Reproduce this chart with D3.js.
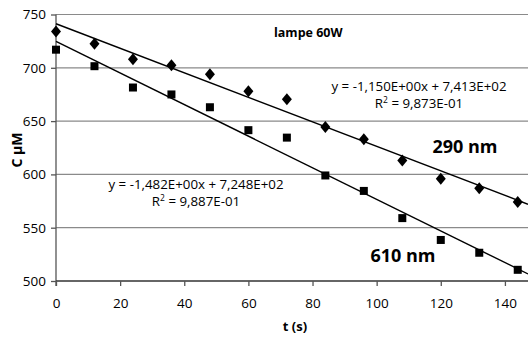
<!DOCTYPE html>
<html>
<head>
<meta charset="utf-8">
<script src="https://cdn.jsdelivr.net/npm/d3@7"></script>
<style>
  body { margin: 0; background: #fff; }
  text { font-family: "Open Sans", sans-serif; fill: #000; }
</style>
</head>
<body>
<svg width="528" height="338"></svg>
<script>
// time (s)
var times = [0, 12, 24, 36, 48, 60, 72, 84, 96, 108, 120, 132, 144];
// 290 nm (diamonds)
var c290 = [734, 722.5, 708, 702.5, 694, 678, 670.5, 644.5, 633, 613, 596, 587, 574];
// 610 nm (squares)
var c610 = [717, 701.5, 681.5, 675, 663, 641.5, 634.5, 599, 584.5, 559, 538.5, 526.5, 510.5];
// linear fits: [slope, intercept]
var fit290 = [-1.150, 741.3];
var fit610 = [-1.482, 724.8];
var xTicks = [0, 20, 40, 60, 80, 100, 120, 140];
var yTicks = [500, 550, 600, 650, 700, 750];

var svg = d3.select("svg");
var x = d3.scaleLinear().domain([0, 147.2]).range([56, 528]);
var y = d3.scaleLinear().domain([500, 750]).range([281, 14.5]);

// gridlines
svg.append("g")
  .selectAll("line")
  .data(yTicks.filter(function (d) { return d > 500; }))
  .join("line")
  .attr("x1", x(0)).attr("x2", 528)
  .attr("y1", function (d) { return y(d); })
  .attr("y2", function (d) { return y(d); })
  .attr("stroke", "#8a8a8a")
  .attr("stroke-width", 1.2);

// axes
var yAxis = svg.append("g")
  .attr("transform", "translate(" + x(0) + ",0)")
  .call(d3.axisLeft(y).tickValues(yTicks).tickSize(5).tickPadding(5));
yAxis.select(".domain").attr("d", "M0," + (y(750)) + "V" + (y(500) + 5)).attr("stroke", "#555").attr("stroke-width", 1.3);
yAxis.selectAll(".tick line").attr("stroke", "#555").attr("stroke-width", 1.3);
yAxis.selectAll("text").style("font-size", "13.5px").attr("fill", "#000");

var xAxis = svg.append("g")
  .attr("transform", "translate(0," + y(500) + ")")
  .call(d3.axisBottom(x).tickValues(xTicks).tickSize(5).tickPadding(12));
xAxis.select(".domain").attr("d", "M" + x(0) + ",0H528").attr("stroke", "#333").attr("stroke-width", 1.6);
xAxis.selectAll(".tick line").attr("stroke", "#555").attr("stroke-width", 1.3);
xAxis.selectAll("text").style("font-size", "13.5px").attr("fill", "#000");
yAxis.attr("font-family", null);
xAxis.attr("font-family", null);

// trend lines
[fit290, fit610].forEach(function (f) {
  svg.append("line")
    .attr("x1", x(0)).attr("y1", y(f[1]))
    .attr("x2", x(147.2)).attr("y2", y(f[0] * 147.2 + f[1]))
    .attr("stroke", "#000")
    .attr("stroke-width", 1.4);
});

// markers
var pts290 = times.map(function (t, i) { return {t: t, c: c290[i]}; });
var pts610 = times.map(function (t, i) { return {t: t, c: c610[i]}; });

svg.append("g").selectAll("path")
  .data(pts290)
  .join("path")
  .attr("transform", function (d) { return "translate(" + x(d.t) + "," + y(d.c) + ")"; })
  .attr("d", "M0,-6L5,0L0,6L-5,0Z")
  .attr("fill", "#000");

svg.append("g").selectAll("rect")
  .data(pts610)
  .join("rect")
  .attr("x", function (d) { return x(d.t) - 4; })
  .attr("y", function (d) { return y(d.c) - 4; })
  .attr("width", 8).attr("height", 8)
  .attr("fill", "#000");

// annotations
function label(tx, ty, str, size, weight, anchor) {
  return svg.append("text")
    .attr("x", tx).attr("y", ty)
    .attr("text-anchor", anchor || "start")
    .style("font-size", size + "px")
    .style("font-weight", weight || "normal")
    .text(str);
}
label(274, 37, "lampe 60W", 12.5, "bold");
label(419, 91, "y = -1,150E+00x + 7,413E+02", 13.3, "normal", "middle");
var r1 = label(419, 108, "R", 13.3, "normal", "middle");
r1.append("tspan").attr("dy", -5).style("font-size", "8.5px").text("2");
r1.append("tspan").attr("dy", 5).text(" = 9,873E-01");
label(465, 153, "290 nm", 18, "bold", "middle");
label(196, 189, "y = -1,482E+00x + 7,248E+02", 13.3, "normal", "middle");
var r2 = label(196, 206, "R", 13.3, "normal", "middle");
r2.append("tspan").attr("dy", -5).style("font-size", "8.5px").text("2");
r2.append("tspan").attr("dy", 5).text(" = 9,887E-01");
label(403, 262, "610 nm", 18, "bold", "middle");

label(295, 331, "t (s)", 13, "bold", "middle");
svg.append("text")
  .attr("transform", "translate(22,150) rotate(-90)")
  .attr("text-anchor", "middle")
  .style("font-size", "14px")
  .style("font-weight", "bold")
  .text("C µM");
</script>
</body>
</html>
